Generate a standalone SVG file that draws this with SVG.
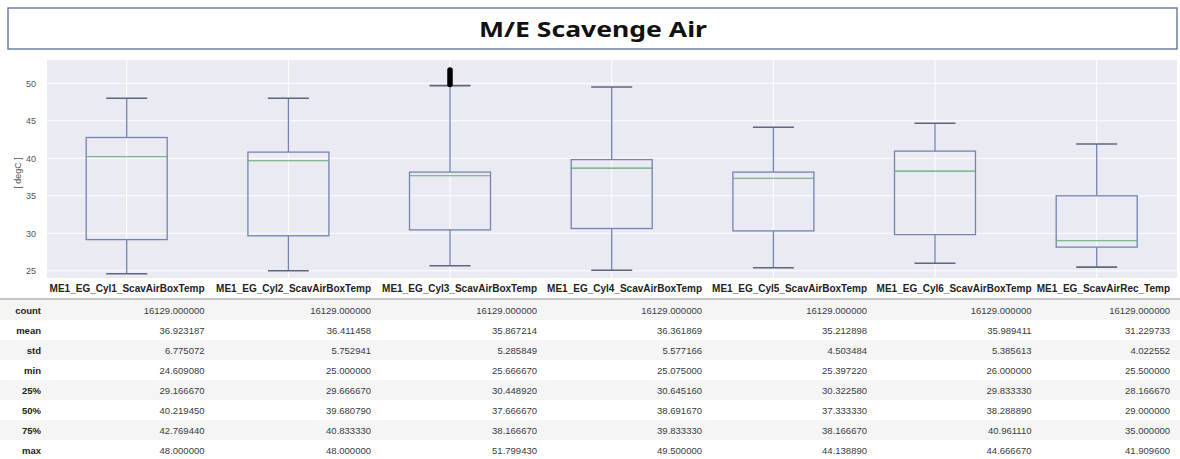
<svg xmlns="http://www.w3.org/2000/svg" width="1180" height="459" viewBox="0 0 1180 459">
<style>
.title{font-family:"Noto Sans","Liberation Sans",Arial,sans-serif;font-weight:bold;font-size:22px;fill:#111;}
.tick{font-family:"Liberation Sans",Arial,sans-serif;font-size:9px;fill:#555;}
.hdr{font-family:"Liberation Sans",Arial,sans-serif;font-weight:bold;font-size:10px;fill:#222;text-anchor:end;}
.rl{font-family:"Liberation Sans",Arial,sans-serif;font-weight:bold;font-size:9.5px;fill:#222;text-anchor:end;}
.val{font-family:"Liberation Sans",Arial,sans-serif;font-size:9.5px;fill:#3a3a3a;text-anchor:end;}
.grid{stroke:#ffffff;stroke-width:1;}
.box{fill:none;stroke:#7184b4;stroke-width:1.3;}
.wh{stroke:#7184b4;stroke-width:1.3;}
.cap{stroke:#5d6780;stroke-width:1.6;}
.med{stroke:#5fa872;stroke-width:1.1;}
.stripe{fill:#f5f5f5;}
</style>
<rect width="1180" height="459" fill="#ffffff"/>
<g id="title">
<rect x="8" y="8" width="1169" height="41" fill="#ffffff" stroke="#60789c" stroke-width="1.4"/>
<text class="title" x="593" y="36.5" text-anchor="middle" textLength="228" lengthAdjust="spacingAndGlyphs">M/E Scavenge Air</text>
</g>
<g id="plot">
<rect x="47" y="60" width="1130" height="218" fill="#eaeaf2"/>
<g id="grid">
<line class="grid" x1="47" y1="83.3" x2="1177" y2="83.3"/>
<line class="grid" x1="47" y1="120.8" x2="1177" y2="120.8"/>
<line class="grid" x1="47" y1="158.3" x2="1177" y2="158.3"/>
<line class="grid" x1="47" y1="195.8" x2="1177" y2="195.8"/>
<line class="grid" x1="47" y1="233.3" x2="1177" y2="233.3"/>
<line class="grid" x1="47" y1="270.8" x2="1177" y2="270.8"/>
<line class="grid" x1="126.7" y1="60" x2="126.7" y2="278"/>
<line class="grid" x1="288.4" y1="60" x2="288.4" y2="278"/>
<line class="grid" x1="450" y1="60" x2="450" y2="278"/>
<line class="grid" x1="611.7" y1="60" x2="611.7" y2="278"/>
<line class="grid" x1="773.4" y1="60" x2="773.4" y2="278"/>
<line class="grid" x1="935" y1="60" x2="935" y2="278"/>
<line class="grid" x1="1096.7" y1="60" x2="1096.7" y2="278"/>
</g>
<g id="yaxis">
<text class="tick" x="36" y="86.5" text-anchor="end">50</text>
<text class="tick" x="36" y="124" text-anchor="end">45</text>
<text class="tick" x="36" y="161.5" text-anchor="end">40</text>
<text class="tick" x="36" y="199" text-anchor="end">35</text>
<text class="tick" x="36" y="236.5" text-anchor="end">30</text>
<text class="tick" x="36" y="274" text-anchor="end">25</text>
<text class="tick" x="0" y="0" text-anchor="middle" font-size="9.5" transform="translate(20.5,173) rotate(-90)">[ degC ]</text>
</g>
</g>
<g id="box-cyl1">
<line class="wh" x1="126.7" y1="98.3" x2="126.7" y2="137.5"/>
<line class="wh" x1="126.7" y1="239.6" x2="126.7" y2="273.7"/>
<line class="cap" x1="106.2" y1="98.3" x2="147.2" y2="98.3"/>
<line class="cap" x1="106.2" y1="273.7" x2="147.2" y2="273.7"/>
<rect class="box" x="86.2" y="137.5" width="81" height="102.1"/>
<line class="med" x1="86.2" y1="156.7" x2="167.2" y2="156.7"/>
</g>
<g id="box-cyl2">
<line class="wh" x1="288.4" y1="98.3" x2="288.4" y2="152.1"/>
<line class="wh" x1="288.4" y1="235.8" x2="288.4" y2="270.8"/>
<line class="cap" x1="267.9" y1="98.3" x2="308.9" y2="98.3"/>
<line class="cap" x1="267.9" y1="270.8" x2="308.9" y2="270.8"/>
<rect class="box" x="247.9" y="152.1" width="81" height="83.7"/>
<line class="med" x1="247.9" y1="160.7" x2="328.9" y2="160.7"/>
</g>
<g id="box-cyl3">
<line class="wh" x1="450" y1="85.6" x2="450" y2="172.1"/>
<line class="wh" x1="450" y1="229.9" x2="450" y2="265.8"/>
<line class="cap" x1="429.5" y1="85.6" x2="470.5" y2="85.6"/>
<line class="cap" x1="429.5" y1="265.8" x2="470.5" y2="265.8"/>
<rect class="box" x="409.5" y="172.1" width="81" height="57.8"/>
<line class="med" x1="409.5" y1="175.8" x2="490.5" y2="175.8"/>
<line x1="450" y1="70" x2="450" y2="84.5" stroke="#000" stroke-width="5.5" stroke-linecap="round"/>
</g>
<g id="box-cyl4">
<line class="wh" x1="611.7" y1="87" x2="611.7" y2="159.6"/>
<line class="wh" x1="611.7" y1="228.5" x2="611.7" y2="270.2"/>
<line class="cap" x1="591.2" y1="87" x2="632.2" y2="87"/>
<line class="cap" x1="591.2" y1="270.2" x2="632.2" y2="270.2"/>
<rect class="box" x="571.2" y="159.6" width="81" height="68.9"/>
<line class="med" x1="571.2" y1="168.1" x2="652.2" y2="168.1"/>
</g>
<g id="box-cyl5">
<line class="wh" x1="773.4" y1="127.3" x2="773.4" y2="172.1"/>
<line class="wh" x1="773.4" y1="230.9" x2="773.4" y2="267.8"/>
<line class="cap" x1="752.9" y1="127.3" x2="793.9" y2="127.3"/>
<line class="cap" x1="752.9" y1="267.8" x2="793.9" y2="267.8"/>
<rect class="box" x="732.9" y="172.1" width="81" height="58.8"/>
<line class="med" x1="732.9" y1="178.3" x2="813.9" y2="178.3"/>
</g>
<g id="box-cyl6">
<line class="wh" x1="935" y1="123.3" x2="935" y2="151.1"/>
<line class="wh" x1="935" y1="234.6" x2="935" y2="263.3"/>
<line class="cap" x1="914.5" y1="123.3" x2="955.5" y2="123.3"/>
<line class="cap" x1="914.5" y1="263.3" x2="955.5" y2="263.3"/>
<rect class="box" x="894.5" y="151.1" width="81" height="83.5"/>
<line class="med" x1="894.5" y1="171.1" x2="975.5" y2="171.1"/>
</g>
<g id="box-rec">
<line class="wh" x1="1096.7" y1="144" x2="1096.7" y2="195.8"/>
<line class="wh" x1="1096.7" y1="247.1" x2="1096.7" y2="267.1"/>
<line class="cap" x1="1076.2" y1="144" x2="1117.2" y2="144"/>
<line class="cap" x1="1076.2" y1="267.1" x2="1117.2" y2="267.1"/>
<rect class="box" x="1056.2" y="195.8" width="81" height="51.3"/>
<line class="med" x1="1056.2" y1="240.8" x2="1137.2" y2="240.8"/>
</g>
<g id="table">
<rect class="stripe" x="0" y="300" width="1180" height="20"/>
<rect class="stripe" x="0" y="340" width="1180" height="20"/>
<rect class="stripe" x="0" y="380" width="1180" height="20"/>
<rect class="stripe" x="0" y="420" width="1180" height="20"/>
<line x1="0" y1="299" x2="1180" y2="299" stroke="#8a8a8a" stroke-width="1.2"/>
<g id="header">
<text class="hdr" x="204.5" y="291.5">ME1_EG_Cyl1_ScavAirBoxTemp</text>
<text class="hdr" x="371" y="291.5">ME1_EG_Cyl2_ScavAirBoxTemp</text>
<text class="hdr" x="537" y="291.5">ME1_EG_Cyl3_ScavAirBoxTemp</text>
<text class="hdr" x="702" y="291.5">ME1_EG_Cyl4_ScavAirBoxTemp</text>
<text class="hdr" x="867" y="291.5">ME1_EG_Cyl5_ScavAirBoxTemp</text>
<text class="hdr" x="1031.5" y="291.5">ME1_EG_Cyl6_ScavAirBoxTemp</text>
<text class="hdr" x="1170" y="291.5">ME1_EG_ScavAirRec_Temp</text>
</g>
<g id="row-count">
<text class="rl" x="41" y="313.5">count</text>
<text class="val" x="204.5" y="313.5">16129.000000</text><text class="val" x="371" y="313.5">16129.000000</text><text class="val" x="537" y="313.5">16129.000000</text><text class="val" x="702" y="313.5">16129.000000</text><text class="val" x="867" y="313.5">16129.000000</text><text class="val" x="1031.5" y="313.5">16129.000000</text><text class="val" x="1170" y="313.5">16129.000000</text>
</g>
<g id="row-mean">
<text class="rl" x="41" y="333.8">mean</text>
<text class="val" x="204.5" y="333.8">36.923187</text><text class="val" x="371" y="333.8">36.411458</text><text class="val" x="537" y="333.8">35.867214</text><text class="val" x="702" y="333.8">36.361869</text><text class="val" x="867" y="333.8">35.212898</text><text class="val" x="1031.5" y="333.8">35.989411</text><text class="val" x="1170" y="333.8">31.229733</text>
</g>
<g id="row-std">
<text class="rl" x="41" y="353.9">std</text>
<text class="val" x="204.5" y="353.9">6.775072</text><text class="val" x="371" y="353.9">5.752941</text><text class="val" x="537" y="353.9">5.285849</text><text class="val" x="702" y="353.9">5.577166</text><text class="val" x="867" y="353.9">4.503484</text><text class="val" x="1031.5" y="353.9">5.385613</text><text class="val" x="1170" y="353.9">4.022552</text>
</g>
<g id="row-min">
<text class="rl" x="41" y="374">min</text>
<text class="val" x="204.5" y="374">24.609080</text><text class="val" x="371" y="374">25.000000</text><text class="val" x="537" y="374">25.666670</text><text class="val" x="702" y="374">25.075000</text><text class="val" x="867" y="374">25.397220</text><text class="val" x="1031.5" y="374">26.000000</text><text class="val" x="1170" y="374">25.500000</text>
</g>
<g id="row-25">
<text class="rl" x="41" y="394">25%</text>
<text class="val" x="204.5" y="394">29.166670</text><text class="val" x="371" y="394">29.666670</text><text class="val" x="537" y="394">30.448920</text><text class="val" x="702" y="394">30.645160</text><text class="val" x="867" y="394">30.322580</text><text class="val" x="1031.5" y="394">29.833330</text><text class="val" x="1170" y="394">28.166670</text>
</g>
<g id="row-50">
<text class="rl" x="41" y="414">50%</text>
<text class="val" x="204.5" y="414">40.219450</text><text class="val" x="371" y="414">39.680790</text><text class="val" x="537" y="414">37.666670</text><text class="val" x="702" y="414">38.691670</text><text class="val" x="867" y="414">37.333330</text><text class="val" x="1031.5" y="414">38.288890</text><text class="val" x="1170" y="414">29.000000</text>
</g>
<g id="row-75">
<text class="rl" x="41" y="434">75%</text>
<text class="val" x="204.5" y="434">42.769440</text><text class="val" x="371" y="434">40.833330</text><text class="val" x="537" y="434">38.166670</text><text class="val" x="702" y="434">39.833330</text><text class="val" x="867" y="434">38.166670</text><text class="val" x="1031.5" y="434">40.961110</text><text class="val" x="1170" y="434">35.000000</text>
</g>
<g id="row-max">
<text class="rl" x="41" y="454">max</text>
<text class="val" x="204.5" y="454">48.000000</text><text class="val" x="371" y="454">48.000000</text><text class="val" x="537" y="454">51.799430</text><text class="val" x="702" y="454">49.500000</text><text class="val" x="867" y="454">44.138890</text><text class="val" x="1031.5" y="454">44.666670</text><text class="val" x="1170" y="454">41.909600</text>
</g>
</g>
</svg>
